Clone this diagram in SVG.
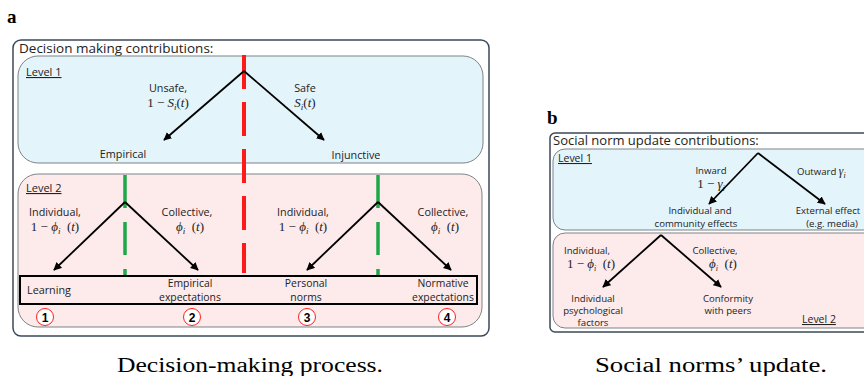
<svg xmlns="http://www.w3.org/2000/svg" width="864" height="376" viewBox="0 0 864 376">
<defs>
<marker id="ah" viewBox="0 0 10 10" refX="9" refY="5" markerWidth="4.5" markerHeight="4.5" orient="auto-start-reverse" markerUnits="strokeWidth">
<path d="M0,0 L10,5 L0,10 z" fill="#000"/>
</marker>
<style>
.outer{fill:#fff;stroke:#3b4a5a;stroke-width:1.5}
.l1{fill:#e3f4fb;stroke:#7d8386;stroke-width:1}
.l2{fill:#fdeaea;stroke:#7d8386;stroke-width:1}
.t{font-family:"Open Sans","Liberation Sans",sans-serif;fill:#222}
.title{font-size:13.5px}
.lab{font-size:10.8px}
.labb{font-size:10.4px}
.labs{font-size:9.6px}
.lv{font-size:11px;text-decoration:underline}
.m{font-family:"Liberation Serif","DejaVu Serif",serif;fill:#222;font-size:13px}
.i{font-style:italic}
.arr{stroke:#000;stroke-width:1.8;fill:none;marker-end:url(#ah)}
.red{stroke:#ff1a1a;stroke-width:4;stroke-dasharray:34 13;fill:none}
.green{stroke:#1fa84a;stroke-width:3.5;stroke-dasharray:33 14;fill:none}
.circ{fill:#fff;stroke:#ff2020;stroke-width:1}
.num{font-family:"Liberation Sans",Arial,sans-serif;font-weight:bold;font-size:12px;fill:#000}
.cap{font-family:"Liberation Serif","DejaVu Serif",serif;font-size:20px;fill:#000}
.pl{font-family:"Liberation Serif","DejaVu Serif",serif;font-weight:bold;font-size:19px;fill:#000}
</style>
</defs>
<rect width="864" height="376" fill="#fff"/>

<!-- Panel a -->
<text class="pl" x="7" y="23">a</text>
<g id="a-outer">
<rect class="outer" x="13" y="40" width="476" height="296" rx="8"/>
<text class="t title" x="19" y="53">Decision making contributions:</text>
</g>
<g id="a-level1">
<rect class="l1" x="18" y="56" width="465" height="107" rx="20"/>
<text class="t lv" x="26" y="76">Level 1</text>
</g>
<g id="a-level2">
<rect class="l2" x="18" y="174" width="464" height="153" rx="20"/>
<text class="t lv" x="26" y="192">Level 2</text>
</g>
<g id="a-empirical"><text class="t lab" x="123" y="158" text-anchor="middle">Empirical</text></g>
<g id="a-injunctive"><text class="t lab" x="356" y="159" text-anchor="middle">Injunctive</text></g>
<g id="a-unsafe">
<text class="t lab" x="168" y="92" text-anchor="middle">Unsafe,</text>
<text class="m" x="168" y="107" text-anchor="middle">1 − <tspan class="i">S</tspan><tspan class="i" font-size="9" dy="3">i</tspan><tspan dy="-3">(</tspan><tspan class="i">t</tspan>)</text>
</g>
<g id="a-safe">
<text class="t lab" x="305" y="92" text-anchor="middle">Safe</text>
<text class="m" x="305" y="107" text-anchor="middle"><tspan class="i">S</tspan><tspan class="i" font-size="9" dy="3">i</tspan><tspan dy="-3">(</tspan><tspan class="i">t</tspan>)</text>
</g>
<g id="a-ind1">
<text class="t lab" x="55" y="216" text-anchor="middle">Individual,</text>
<text class="m" x="55" y="231" text-anchor="middle">1 − <tspan class="i">ϕ</tspan><tspan class="i" font-size="9" dy="3">i</tspan><tspan dy="-3" xml:space="preserve">  (</tspan><tspan class="i">t</tspan>)</text>
</g>
<g id="a-col1">
<text class="t lab" x="187" y="216" text-anchor="middle">Collective,</text>
<text class="m" x="190" y="231" text-anchor="middle"><tspan class="i">ϕ</tspan><tspan class="i" font-size="9" dy="3">i</tspan><tspan dy="-3" xml:space="preserve">  (</tspan><tspan class="i">t</tspan>)</text>
</g>
<g id="a-ind2">
<text class="t lab" x="303" y="216" text-anchor="middle">Individual,</text>
<text class="m" x="303" y="231" text-anchor="middle">1 − <tspan class="i">ϕ</tspan><tspan class="i" font-size="9" dy="3">i</tspan><tspan dy="-3" xml:space="preserve">  (</tspan><tspan class="i">t</tspan>)</text>
</g>
<g id="a-col2">
<text class="t lab" x="443" y="216" text-anchor="middle">Collective,</text>
<text class="m" x="445" y="231" text-anchor="middle"><tspan class="i">ϕ</tspan><tspan class="i" font-size="9" dy="3">i</tspan><tspan dy="-3" xml:space="preserve">  (</tspan><tspan class="i">t</tspan>)</text>
</g>
<g id="a-outcomes">
<rect x="20" y="276" width="457" height="28" fill="none" stroke="#000" stroke-width="2"/>
<text class="t lab" x="27" y="294">Learning</text>
<text class="t labb" x="190" y="286.5" text-anchor="middle">Empirical</text>
<text class="t labb" x="190" y="300.5" text-anchor="middle">expectations</text>
<text class="t labb" x="306" y="286.5" text-anchor="middle">Personal</text>
<text class="t labb" x="306" y="300.5" text-anchor="middle">norms</text>
<text class="t labb" x="443" y="286.5" text-anchor="middle">Normative</text>
<text class="t labb" x="443" y="300.5" text-anchor="middle">expectations</text>
</g>
<g id="a-n1"><circle class="circ" cx="45" cy="317" r="8.5"/><text class="num" x="45" y="321.5" text-anchor="middle">1</text></g>
<g id="a-n2"><circle class="circ" cx="192" cy="317" r="8.5"/><text class="num" x="192" y="321.5" text-anchor="middle">2</text></g>
<g id="a-n3"><circle class="circ" cx="307" cy="317" r="8.5"/><text class="num" x="307" y="321.5" text-anchor="middle">3</text></g>
<g id="a-n4"><circle class="circ" cx="447" cy="317" r="8.5"/><text class="num" x="447" y="321.5" text-anchor="middle">4</text></g>

<text class="cap" x="250" y="372" text-anchor="middle" textLength="266" lengthAdjust="spacingAndGlyphs">Decision-making process.</text>

<!-- Panel b -->
<text class="pl" x="547" y="124">b</text>
<g id="b-outer">
<rect class="outer" x="550" y="133" width="330" height="199" rx="5"/>
<text class="t" font-size="13px" x="553" y="145">Social norm update contributions:</text>
</g>
<g id="b-level1">
<rect class="l1" x="553" y="149" width="324" height="81" rx="12"/>
<text class="t" font-size="10.5px" text-decoration="underline" x="558" y="162">Level 1</text>
</g>
<g id="b-level2">
<rect class="l2" x="553" y="233" width="324" height="95" rx="12"/>
<text class="t" font-size="10.5px" text-decoration="underline" x="802" y="323">Level 2</text>
</g>
<g id="b-inward">
<text class="t labs" x="711" y="174" text-anchor="middle">Inward</text>
<text class="m" font-size="11.5px" x="711" y="188" text-anchor="middle">1 − <tspan class="i">γ</tspan><tspan class="i" font-size="8" dy="2.5">i</tspan></text>
</g>
<g id="b-outward">
<text class="t labs" x="797" y="175">Outward <tspan font-family="Liberation Serif, serif" font-style="italic" font-size="11.5px">γ</tspan><tspan font-family="Liberation Serif, serif" font-style="italic" font-size="8px" dy="2.5">i</tspan></text>
</g>
<g id="b-indcom">
<text class="t labs" x="700" y="214" text-anchor="middle">Individual and</text>
<text class="t labs" x="696" y="226.5" text-anchor="middle">community effects</text>
</g>
<g id="b-external">
<text class="t labs" x="828" y="214" text-anchor="middle">External effect</text>
<text class="t labs" x="832" y="226.5" text-anchor="middle">(e.g. media)</text>
</g>
<g id="b-ind">
<text class="t labs" x="587" y="254" text-anchor="middle">Individual,</text>
<text class="m" font-size="11.5px" x="591" y="268" text-anchor="middle">1 − <tspan class="i">ϕ</tspan><tspan class="i" font-size="8" dy="2.5">i</tspan><tspan dy="-2.5" xml:space="preserve">  (</tspan><tspan class="i">t</tspan>)</text>
</g>
<g id="b-col">
<text class="t labs" x="715" y="254" text-anchor="middle">Collective,</text>
<text class="m" font-size="11.5px" x="723" y="268" text-anchor="middle"><tspan class="i">ϕ</tspan><tspan class="i" font-size="8" dy="2.5">i</tspan><tspan dy="-2.5" xml:space="preserve">  (</tspan><tspan class="i">t</tspan>)</text>
</g>
<g id="b-psych">
<text class="t labs" x="593" y="302" text-anchor="middle">Individual</text>
<text class="t labs" x="593" y="314" text-anchor="middle">psychological</text>
<text class="t labs" x="593" y="326" text-anchor="middle">factors</text>
</g>
<g id="b-conf">
<text class="t labs" x="728" y="302" text-anchor="middle">Conformity</text>
<text class="t labs" x="728" y="314" text-anchor="middle">with peers</text>
</g>

<text class="cap" x="711" y="372" text-anchor="middle" textLength="232" lengthAdjust="spacingAndGlyphs">Social norms’ update.</text>

<g id="connectors">
<line class="red" x1="244" y1="55" x2="244" y2="273"/>
<line class="green" x1="125" y1="175" x2="125" y2="275"/>
<line class="green" x1="378" y1="175" x2="378" y2="275"/>
<polyline class="arr" points="244,71 164,140"/>
<polyline class="arr" points="244,71 324,140"/>
<polyline class="arr" points="125,202 54,270"/>
<polyline class="arr" points="125,202 198,270"/>
<polyline class="arr" points="378,202 307,270"/>
<polyline class="arr" points="378,202 451,270"/>
<polyline class="arr" points="758,153 709,204"/>
<polyline class="arr" points="758,153 825,204"/>
<polyline class="arr" points="661,235 603,287"/>
<polyline class="arr" points="661,235 721,287"/>
</g>
</svg>
